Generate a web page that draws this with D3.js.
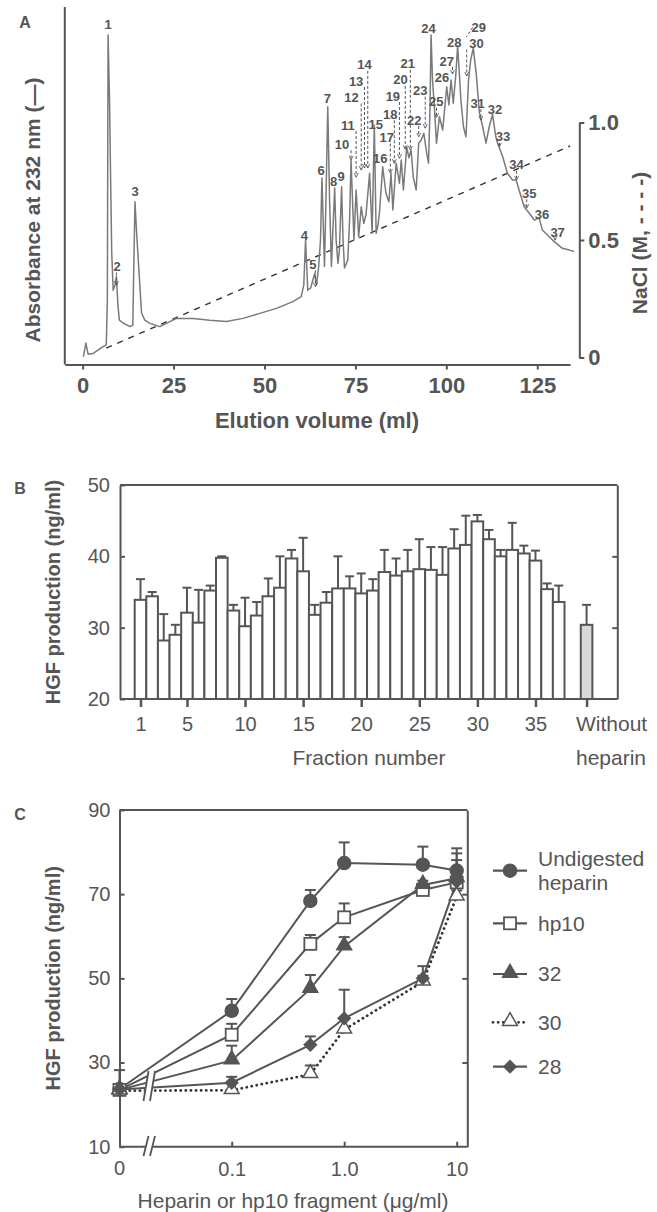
<!DOCTYPE html>
<html>
<head>
<meta charset="utf-8">
<script src="https://cdn.jsdelivr.net/npm/d3@7"></script>
<style>
  body { margin: 0; background: #fff; }
  svg text { font-family: "Liberation Sans", Arial, sans-serif; fill: #555; }
</style>
</head>
<body>
<svg id="fig" width="657" height="1212"></svg>
<script>
// ---- Panel A: elution profile (volume ml, absorbance in arbitrary units 0-100)
const chromatogram = [
  [0.2,2.2],[0.9,6.0],[1.5,2.9],[2.9,3.1],[5.6,5.0],[6.5,5.5],[6.8,18],[7.0,92.2],[7.4,74],[7.7,51.6],
  [8.0,31.2],[8.4,20.8],[8.9,22.2],[9.3,24.6],[9.7,16.6],[10.1,12.4],[11.1,11.6],[13.0,10.6],[13.8,11],
  [14.1,29.2],[14.4,45.5],[14.8,37.6],[15.3,29.2],[16.2,14.4],[17.1,12.4],[18.5,11.5],[21.2,10.6],
  [25.8,12.9],[30.4,12.9],[34.9,12.4],[39.5,12.0],[44.1,12.9],[48.7,14.3],[53.3,15.7],[57.8,17.6],
  [60.1,19.0],[60.8,22.2],[61.3,34.8],[61.9,20.8],[62.7,21.4],[63.8,25.5],[64.3,22.2],[64.9,27.4],
  [65.4,34.8],[65.8,52.2],[66.2,37.6],[66.5,27.4],[66.9,46],[67.4,72.1],[67.9,46],[68.4,27.4],
  [68.7,34.8],[69.3,49.4],[69.7,34.8],[70.2,28.3],[70.6,32],[71.2,49.7],[71.6,34.8],[72.0,27],
  [72.9,29.2],[73.4,40.4],[73.8,57.2],[74.2,46],[74.6,34.8],[75.2,48.8],[75.9,35.7],[76.6,44.1],
  [77.3,39.5],[77.9,41.8],[78.9,53.5],[79.6,36.7],[80.2,67],[80.7,36.7],[81.2,39],[81.6,42.3],
  [82.5,55.3],[83.4,47.9],[84.2,45.5],[84.8,53.5],[85.3,43.2],[86.2,56.3],[87.1,50.7],[87.6,57.2],
  [88.2,48.8],[89.1,60.9],[89.7,57.8],[90.3,60],[90.9,52.5],[91.7,48.8],[92.4,61.9],[93.1,62.8],
  [93.8,64.7],[94.6,59.1],[95.1,56.3],[95.5,71.2],[95.8,92.2],[96.2,79.6],[96.7,72.1],[97.3,61.9],
  [98.1,69.3],[99.0,65.6],[100.1,77.7],[100.7,72.6],[101.3,79.6],[101.9,73.1],[102.6,81],[103.1,89.1],
  [103.6,81],[104.0,74],[104.7,66.5],[105.4,63.7],[106.1,79.6],[106.7,85.2],[107.4,88.5],[108.2,81.5],
  [109.1,70.3],[110.0,66.5],[110.9,61.9],[111.8,66.5],[112.7,70],[113.6,63.7],[114.1,61.9],[115.5,58.1],
  [116.8,53.5],[118.2,51.6],[119.2,51.6],[120.0,48.8],[121.4,44.1],[122.8,42.3],[124.2,40.4],
  [125.5,41],[126.4,37.6],[129.2,34.8],[131.9,32.5],[133.8,32],[135.1,31.6]
];
const naclGradient = [[6.5, 0.04], [134, 0.90]];   // [ml, M]
const elutionTicks = [0, 25, 50, 75, 100, 125];
const naclTicks = [0, 0.5, 1.0];
// [label, volume, absorbance]
const peakLabels = [
  [1,7.0,95],[2,9.5,27.4],[3,14.4,48.3],[4,61.0,36.2],[5,63.3,28],[6,65.6,54.2],[7,67.3,74.3],
  [8,69.0,51.3],[9,71.1,52.5],[10,71.3,61.6],[11,72.9,67],[12,73.9,74.7],[13,75.2,79.3],[14,77.5,83.8],
  [15,80.6,67.2],[16,81.8,57.5],[17,83.6,63.5],[18,84.6,70],[19,85.3,75.1],[20,87.4,79.6],[21,89.4,84.1],
  [22,91.2,68.4],[23,92.8,76.6],[24,95.1,94],[25,97.2,73.5],[26,98.8,80.3],[27,100.1,84.9],[28,102.2,90],
  [29,108.9,94.3],[30,108.3,89.8],[31,108.6,73.1],[32,113.4,71.4],[33,115.6,63.7],[34,119.3,55.9],
  [35,122.8,47.9],[36,126.3,42],[37,130.6,37]
];
// [label, arrow tip volume, arrow tip absorbance]
const peakArrows = [
  [2,9.3,22.2],[5,64.0,21.8],[10,73.8,57.2],[11,75.2,52.4],[12,76.6,54.4],[13,77.5,55],[14,78.4,55],
  [17,84.6,53.5],[18,85.7,56.3],[19,87.1,57.7],[20,88.7,60.2],[21,90.1,60],[22,92.4,63.7],[23,94.2,66.1],
  [25,97.3,69.1],[27,101.7,81.3],[29,105.5,91.6],[30,105.6,80.7],[31,109.5,68.4],[33,114.6,60.9],
  [34,119.3,51.6],[35,122.1,43.7],[37,129.9,34.8]
];

// ---- Panel B: HGF production per fraction
const fractionMean = [33.9,34.4,28.2,29.0,32.1,30.7,35.2,39.8,32.4,30.2,31.7,34.4,35.6,39.7,37.9,31.8,
  33.5,35.5,35.5,34.8,35.2,37.8,37.3,37.9,38.2,38.1,37.4,41.1,41.6,44.9,42.4,40.0,40.9,40.4,39.4,35.4,33.6];
const fractionSD = [2.9,0.6,3.7,1.4,3.5,4.6,0.7,0.2,0.8,4.0,1.9,2.5,4.4,1.2,4.7,1.4,
  1.5,4.5,1.7,2.8,1.6,3.1,2.4,3.0,4.2,3.2,3.9,2.7,4.1,0.9,1.3,0.9,3.8,1.1,1.4,0.8,2.3];
const controlMean = 30.4, controlSD = 2.8;
const fractionTicks = [1, 5, 10, 15, 20, 25, 30, 35];
const hgfTicksB = [20, 30, 40, 50];

// ---- Panel C: dose response
const doses = [0, 0.1, 0.5, 1, 5, 10];
const undigested = [23.7, 42.3, 68.4, 77.4, 77.0, 75.6];
const undigestedSD = [0, 2.8, 2.6, 4.9, 4.3, 5.3];
const hp10 = [23.5, 36.6, 58.2, 64.5, 71.0, 72.8];
const hp10SD = [0, 2.6, 2.1, 3.3, 0.8, 5.3];
const frac32 = [23.5, 30.5, 47.5, 57.6, 72.2, 73.8];
const frac32SD = [0, 3.5, 3.3, 2.2, 1.0, 5.9];
const frac30 = [23.3, 23.4, 27.2, 37.8, 49.2, 69.4];
const frac30SD = [0, 0, 2.1, 0, 1.4, 1.5];
const frac28 = [23.6, 25.2, 34.2, 40.5, 50.0, 73.0];
const frac28SD = [4.6, 1.4, 2.0, 6.8, 2.9, 3.0];
const hgfTicksC = [10, 30, 50, 70, 90];
const doseTicks = [0.1, 1, 10];

const ink = "#555";
const svg = d3.select("#fig");

svg.append("defs").append("marker")
  .attr("id", "arr").attr("viewBox", "0 0 6 6").attr("refX", 5).attr("refY", 3)
  .attr("markerWidth", 5).attr("markerHeight", 5).attr("orient", "auto")
  .append("path").attr("d", "M0,0.5 L5,3 L0,5.5").attr("fill", "none").attr("stroke", "#555").attr("stroke-width", 1);

function panelLetter(t, x, y) {
  svg.append("text").attr("x", x).attr("y", y).attr("dy", "0.35em").attr("text-anchor", "middle")
    .style("font-weight", "bold").style("font-size", "16px").text(t);
}
function styleAxis(g, size, bold) {
  g.selectAll("path, line").attr("stroke", ink).attr("stroke-width", 2);
  g.selectAll("text").style("font-size", size + "px").style("font-weight", bold ? "bold" : "normal")
    .attr("fill", ink).style("font-family", "'Liberation Sans', Arial, sans-serif");
}

// ================= PANEL A =================
const xA = d3.scaleLinear().domain([-4.9, 134]).range([64.8, 570]);
const yA = d3.scaleLinear().domain([0, 100]).range([364.5, 7]);
const yNaCl = d3.scaleLinear().domain([0, 1]).range([357.5, 122.5]);

panelLetter("A", 25, 22);

svg.append("path").datum(naclGradient)
  .attr("d", d3.line().x(d => xA(d[0])).y(d => yNaCl(d[1])))
  .attr("fill", "none").attr("stroke", "#333").attr("stroke-width", 1.4).attr("stroke-dasharray", "6,6");

svg.append("path").datum(chromatogram)
  .attr("d", d3.line().x(d => xA(d[0])).y(d => yA(d[1])))
  .attr("fill", "none").attr("stroke", "#7a7a7a").attr("stroke-width", 1.5).attr("stroke-linejoin", "round");

svg.append("line").attr("x1", xA(-4.9)).attr("x2", xA(-4.9)).attr("y1", yA(100)).attr("y2", yA(0))
  .attr("stroke", ink).attr("stroke-width", 2);

const axA = svg.append("g").attr("transform", `translate(0,${yA(0)})`)
  .call(d3.axisBottom(xA).tickValues(elutionTicks).tickSize(5).tickSizeOuter(0).tickPadding(8));
styleAxis(axA, 22, true);

const axN = svg.append("g").attr("transform", "translate(579.3,0)")
  .call(d3.axisRight(yNaCl).tickValues(naclTicks).tickSize(5).tickSizeOuter(0).tickPadding(4)
    .tickFormat(d => d === 0 ? "0" : d3.format(".1f")(d)));
styleAxis(axN, 22, true);

svg.append("text").attr("transform", "translate(32.4,210) rotate(-90)").attr("text-anchor", "middle")
  .attr("dy", "0.35em").style("font-weight", "bold").style("font-size", "21px").text("Absorbance at 232 nm (\u2014)");
svg.append("text").attr("transform", "translate(640,243) rotate(-90)").attr("text-anchor", "middle")
  .attr("dy", "0.35em").style("font-weight", "bold").style("font-size", "21px").text("NaCl (M, - - - -)");
svg.append("text").attr("x", 317).attr("y", 420).attr("dy", "0.35em").attr("text-anchor", "middle")
  .style("font-weight", "bold").style("font-size", "22px").text("Elution volume (ml)");

// leaders: vertical dashed drop at the peak, slanted only when the label sits well off the peak
const labelPos = new Map(peakLabels.map(d => [d[0], d]));
svg.append("g").selectAll("line").data(peakArrows).join("line")
  .attr("x1", d => {
    const lx = xA(labelPos.get(d[0])[1]), tx = xA(d[1]);
    return Math.abs(lx - tx) > 11 ? lx - 6 : tx;
  })
  .attr("y1", d => yA(labelPos.get(d[0])[2]) + (Math.abs(xA(labelPos.get(d[0])[1]) - xA(d[1])) > 11 ? 0 : 6))
  .attr("x2", d => xA(d[1])).attr("y2", d => yA(d[2]))
  .attr("stroke", "#555").attr("stroke-width", 1).attr("stroke-dasharray", "3,2")
  .attr("marker-end", d => d[0] === 29 ? null : "url(#arr)");

svg.append("g").selectAll("text").data(peakLabels).join("text")
  .attr("x", d => xA(d[1])).attr("y", d => yA(d[2])).attr("dy", "0.35em").attr("text-anchor", "middle")
  .style("font-weight", "bold").style("font-size", "13px").text(d => d[0]);

// ================= PANEL B =================
const xB = d3.scaleLinear().domain([1, 37]).range([140.5, 558.7]);
const yB = d3.scaleLinear().domain([20, 50]).range([699, 485]);
const bw = xB(2) - xB(1);
const controlPos = 39.4;
const xLeftB = 120, xRightB = 617.3;

panelLetter("B", 20, 488);

const barsB = fractionMean.map((m, i) => ({ n: i + 1, m, sd: fractionSD[i], fill: "#fff" }));
barsB.push({ n: controlPos, m: controlMean, sd: controlSD, fill: "#d9d9d9" });

const gB = svg.append("g");
gB.selectAll("line.err").data(barsB).join("line").attr("class", "err")
  .attr("x1", d => xB(d.n)).attr("x2", d => xB(d.n)).attr("y1", d => yB(d.m)).attr("y2", d => yB(d.m + d.sd))
  .attr("stroke", ink).attr("stroke-width", 2);
gB.selectAll("line.cap").data(barsB).join("line").attr("class", "cap")
  .attr("x1", d => xB(d.n) - 4.5).attr("x2", d => xB(d.n) + 4.5).attr("y1", d => yB(d.m + d.sd)).attr("y2", d => yB(d.m + d.sd))
  .attr("stroke", ink).attr("stroke-width", 2);
gB.selectAll("rect").data(barsB).join("rect")
  .attr("x", d => xB(d.n) - bw / 2).attr("width", bw)
  .attr("y", d => yB(d.m)).attr("height", d => yB(20) - yB(d.m))
  .attr("fill", d => d.fill).attr("stroke", ink).attr("stroke-width", 2);

// frame
svg.append("line").attr("x1", xLeftB).attr("x2", xRightB).attr("y1", yB(50)).attr("y2", yB(50)).attr("stroke", ink).attr("stroke-width", 2);
svg.append("line").attr("x1", xLeftB).attr("x2", xRightB).attr("y1", yB(20)).attr("y2", yB(20)).attr("stroke", ink).attr("stroke-width", 2);
const axBl = svg.append("g").attr("transform", `translate(${xLeftB},0)`)
  .call(d3.axisLeft(yB).tickValues(hgfTicksB).tickSize(-5).tickSizeOuter(0).tickPadding(10));
styleAxis(axBl, 20, false);
const axBr = svg.append("g").attr("transform", `translate(${xRightB},0)`)
  .call(d3.axisRight(yB).tickValues([30, 40]).tickSize(-5).tickSizeOuter(0).tickFormat(""));
styleAxis(axBr, 20, false);
const axBb = svg.append("g").attr("transform", `translate(0,${yB(20)})`)
  .call(d3.axisBottom(xB).tickValues(fractionTicks.concat([controlPos])).tickSize(8).tickPadding(10)
    .tickFormat(d => d === controlPos ? "" : d));
axBb.select(".domain").remove();
styleAxis(axBb, 20, false);
axBb.selectAll("line").attr("stroke-width", 2.5);

svg.append("text").attr("x", xB(controlPos) - 10.6).attr("y", 724).attr("dy", "0.35em")
  .style("font-size", "21px").text("Without");
svg.append("text").attr("x", xB(controlPos) - 10.6).attr("y", 757.5).attr("dy", "0.35em")
  .style("font-size", "21px").text("heparin");
svg.append("text").attr("x", 369).attr("y", 757.5).attr("dy", "0.35em").attr("text-anchor", "middle")
  .style("font-size", "21px").text("Fraction number");
svg.append("text").attr("transform", `translate(53,${(yB(20) + yB(50)) / 2}) rotate(-90)`).attr("text-anchor", "middle")
  .attr("dy", "0.35em").style("font-weight", "bold").style("font-size", "20px").text("HGF production (ng/ml)");

// ================= PANEL C =================
const xC = d3.scaleLog().domain([0.1, 10]).range([231.7, 456.7]);
const xLeftC = 119.5, xRightC = 467.3;
const px = d => d === 0 ? xLeftC : xC(d);
const yC = d3.scaleLinear().domain([10, 90]).range([1146.7, 810]);

panelLetter("C", 20, 814);

const dotted = "0.1,5";
const seriesC = [
  { name: ["Undigested", "heparin"], v: undigested, sd: undigestedSD, shape: "circle", fill: ink, dash: null, ly: 870.7 },
  { name: ["hp10"], v: hp10, sd: hp10SD, shape: "square", fill: "#fff", dash: null, ly: 923.3 },
  { name: ["32"], v: frac32, sd: frac32SD, shape: "triangle", fill: ink, dash: null, ly: 974 },
  { name: ["30"], v: frac30, sd: frac30SD, shape: "triangle", fill: "#fff", dash: dotted, ly: 1022.3 },
  { name: ["28"], v: frac28, sd: frac28SD, shape: "diamond", fill: ink, dash: null, ly: 1066.7 }
];

function marker(sel, shape, fill) {
  if (shape === "circle") {
    sel.append("circle").attr("r", 6.5).attr("fill", fill).attr("stroke", ink).attr("stroke-width", 1.5);
  } else if (shape === "square") {
    sel.append("rect").attr("x", -6).attr("y", -6).attr("width", 12).attr("height", 12)
      .attr("fill", fill).attr("stroke", ink).attr("stroke-width", 1.8);
  } else if (shape === "triangle") {
    sel.append("path").attr("d", d3.symbol(d3.symbolTriangle, 95)()).attr("transform", "translate(0,-1)")
      .attr("fill", fill).attr("stroke", ink).attr("stroke-width", 1.5);
  } else {
    sel.append("path").attr("d", d3.symbol(d3.symbolSquare, 80)()).attr("transform", "rotate(45)")
      .attr("fill", fill).attr("stroke", ink).attr("stroke-width", 1.2);
  }
}

// frame and axes
svg.append("line").attr("x1", xLeftC).attr("x2", xRightC).attr("y1", yC(90)).attr("y2", yC(90)).attr("stroke", ink).attr("stroke-width", 2);
svg.append("line").attr("x1", xLeftC).attr("x2", xRightC).attr("y1", yC(10)).attr("y2", yC(10)).attr("stroke", ink).attr("stroke-width", 2);
const axCl = svg.append("g").attr("transform", `translate(${xLeftC},0)`)
  .call(d3.axisLeft(yC).tickValues(hgfTicksC).tickSize(-5).tickSizeOuter(0).tickPadding(9));
styleAxis(axCl, 20, false);
const axCr = svg.append("g").attr("transform", `translate(${xRightC},0)`)
  .call(d3.axisRight(yC).tickValues([30, 50, 70]).tickSize(-5).tickSizeOuter(0).tickFormat(""));
styleAxis(axCr, 20, false);
const axCb = svg.append("g").attr("transform", `translate(0,${yC(10)})`)
  .call(d3.axisBottom(xC).tickValues(doseTicks).tickSize(-5).tickPadding(15)
    .tickFormat(d => d === 1 ? "1.0" : String(d)));
axCb.select(".domain").remove();
styleAxis(axCb, 20, false);
svg.append("text").attr("x", xLeftC).attr("y", 1168).attr("dy", "0.35em").attr("text-anchor", "middle")
  .style("font-size", "20px").text("0");

const gC = svg.append("g");
seriesC.forEach(s => {
  const pts = doses.map((d, i) => ({ d, v: s.v[i], sd: s.sd[i] }));
  gC.append("path").datum(pts)
    .attr("d", d3.line().x(p => px(p.d)).y(p => yC(p.v)))
    .attr("fill", "none").attr("stroke", s.dash ? "#333" : ink).attr("stroke-width", s.dash ? 2.8 : 2)
    .attr("stroke-dasharray", s.dash).attr("stroke-linecap", s.dash ? "round" : "butt");
  const eb = pts.filter(p => p.sd > 0);
  gC.selectAll(null).data(eb).join("line")
    .attr("x1", p => px(p.d)).attr("x2", p => px(p.d)).attr("y1", p => yC(p.v)).attr("y2", p => yC(p.v + p.sd))
    .attr("stroke", ink).attr("stroke-width", 2);
  gC.selectAll(null).data(eb).join("line")
    .attr("x1", p => px(p.d) - 5.5).attr("x2", p => px(p.d) + 5.5).attr("y1", p => yC(p.v + p.sd)).attr("y2", p => yC(p.v + p.sd))
    .attr("stroke", ink).attr("stroke-width", 2);
});
seriesC.forEach(s => {
  doses.forEach((d, i) => {
    const g = gC.append("g").attr("transform", `translate(${px(d)},${yC(s.v[i])})`);
    marker(g, s.shape, s.fill);
  });
});

// axis break marks
function breakMark(yTop, yBot) {
  const x0 = 143.5, gap = 6.5, slant = 5;
  svg.append("path")
    .attr("d", `M${x0 + slant},${yTop} L${x0 + slant + gap},${yTop} L${x0 + gap},${yBot} L${x0},${yBot} Z`)
    .attr("fill", "#fff");
  [0, gap].forEach(o => svg.append("line")
    .attr("x1", x0 + slant + o).attr("y1", yTop).attr("x2", x0 + o).attr("y2", yBot)
    .attr("stroke", ink).attr("stroke-width", 1.8));
}
breakMark(1071, 1101);
breakMark(1136, 1156);

// legend
seriesC.forEach(s => {
  const g = svg.append("g").attr("transform", `translate(510,${s.ly})`);
  g.append("line").attr("x1", -17).attr("x2", 17).attr("stroke", s.dash ? "#333" : ink)
    .attr("stroke-width", s.dash ? 2.8 : 2.2).attr("stroke-dasharray", s.dash).attr("stroke-linecap", s.dash ? "round" : "butt");
  marker(g, s.shape, s.fill);
  s.name.forEach((t, k) => {
    g.append("text").attr("x", 28).attr("y", (k - (s.name.length - 1) / 2) * 24.4).attr("dy", "0.35em")
      .style("font-size", "21px").text(t);
  });
});

svg.append("text").attr("transform", `translate(53,${(yC(10) + yC(90)) / 2}) rotate(-90)`).attr("text-anchor", "middle")
  .attr("dy", "0.35em").style("font-weight", "bold").style("font-size", "20px").text("HGF production (ng/ml)");
svg.append("text").attr("x", 293).attr("y", 1201).attr("dy", "0.35em").attr("text-anchor", "middle")
  .style("font-size", "21px").text("Heparin or hp10 fragment (\u03bcg/ml)");
</script>
</body>
</html>
